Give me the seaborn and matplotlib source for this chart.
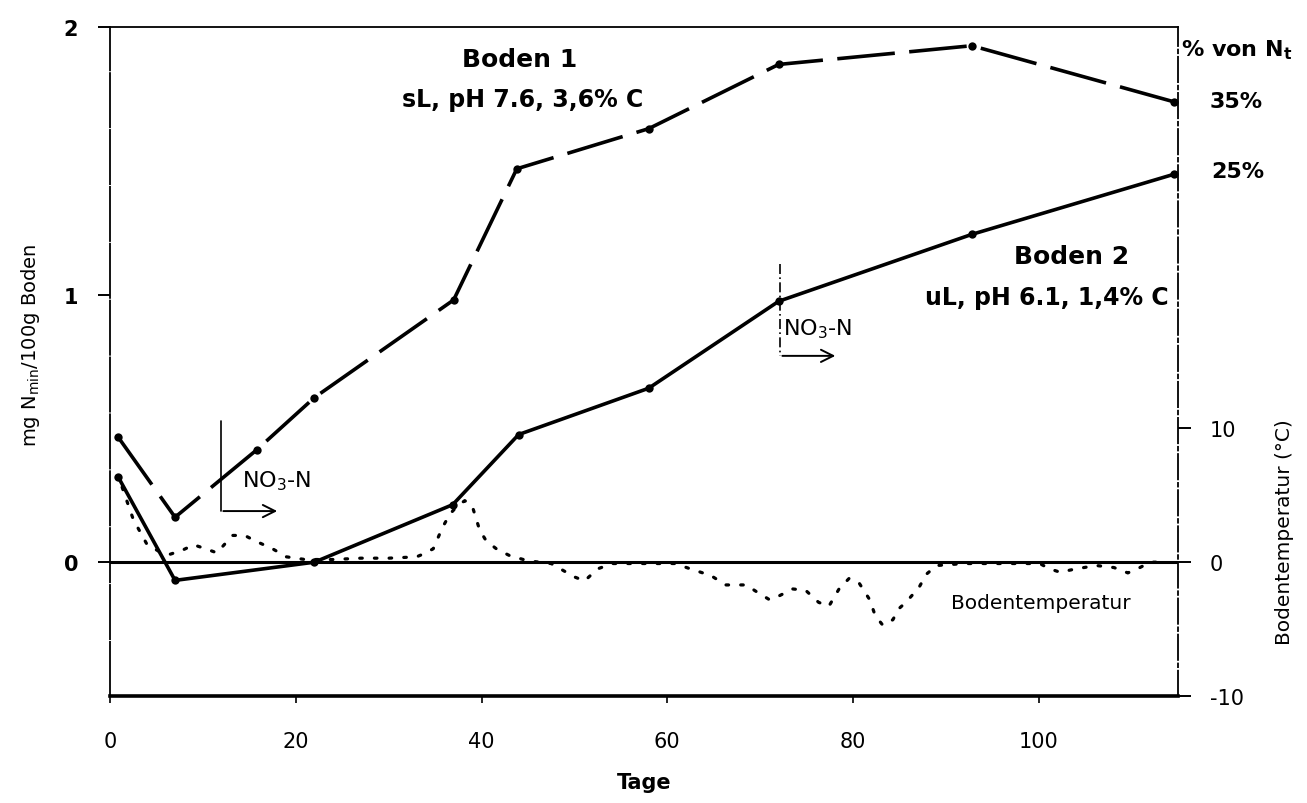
import matplotlib
matplotlib.use('Agg')
import matplotlib.pyplot as plt
import seaborn as sns
import pandas as pd

# Boden 1 (dashed) and Boden 2 (solid), mg Nmin / 100 g Boden
days_b1 = [0.9, 7, 15.8, 22, 37, 43.8, 58, 72, 92.8, 114.6]
nmin_b1 = [0.466, 0.168, 0.42, 0.615, 0.98, 1.47, 1.62, 1.86, 1.93, 1.72]
days_b2 = [0.9, 7, 22, 36.9, 44, 58, 72, 92.8, 114.6]
nmin_b2 = [0.317, -0.068, 0.0, 0.215, 0.477, 0.65, 0.975, 1.225, 1.45]

# soil temperature (°C), right axis
days_t = [1.3, 2.5, 4, 5.3, 6.5, 7.8, 9, 10.3, 11.5, 13.2, 14.5, 15.6, 17.5, 19,
          21, 24, 27, 30, 33, 33.7, 34.8, 35.8, 36.6, 37.4, 38.2, 39, 39.8, 40.5,
          41.6, 43, 45, 47.5, 50, 51.1, 52.5, 54.1, 57, 60.8, 62.5, 64.7, 66.3,
          68.5, 69.6, 71, 72.1, 73.5, 74.9, 76.3, 77.4, 78.5, 79.6, 80.7, 81.8,
          82.4, 83.2, 84.3, 84.9, 85.7, 87.1, 87.9, 89, 92, 96, 100.1, 101.2,
          102.3, 104, 106.2, 108.1, 109.6, 110.9, 112, 113.5]
temp = [5.6, 3.2, 1.3, 0.8, 0.6, 0.9, 1.3, 1.0, 0.7, 2.0, 2.0, 1.6, 1.0, 0.4,
        0.2, 0.2, 0.3, 0.3, 0.4, 0.6, 1.0, 2.6, 3.6, 4.2, 4.6, 4.2, 2.4, 1.6,
        1.0, 0.5, 0.1, -0.1, -1.1, -1.4, -0.5, -0.1, -0.1, -0.1, -0.5, -1.0, -1.7,
        -1.7, -2.2, -2.8, -2.5, -2.0, -2.1, -3.0, -3.3, -2.0, -1.2, -1.6, -2.8,
        -4.0, -4.7, -4.3, -3.5, -3.0, -1.9, -0.9, -0.25, -0.1, -0.1, -0.1, -0.5,
        -0.75, -0.5, -0.25, -0.4, -0.8, -0.4, 0.0, 0.0]

x_ticks = [0, 20, 40, 60, 80, 100]
y_ticks = [0, 1, 2]
t_ticks = [-10, 0, 10]

sns.set_theme(style='white')
plt.rcParams['font.family'] = ['DejaVu Sans']
plt.rcParams['text.color'] = 'black'
plt.rcParams['axes.labelcolor'] = 'black'
plt.rcParams['xtick.color'] = 'black'
plt.rcParams['ytick.color'] = 'black'
plt.rcParams['axes.unicode_minus'] = False

fig = plt.figure(figsize=(13.07, 8.04), dpi=100)
ax = fig.add_axes([0.0842, 0.1331, 0.8171, 0.8321])
ax2 = ax.twinx()

df_b1 = pd.DataFrame({'Tage': days_b1, 'N': nmin_b1})
df_b2 = pd.DataFrame({'Tage': days_b2, 'N': nmin_b2})
df_t = pd.DataFrame({'Tage': days_t, 'T': temp})

sns.lineplot(data=df_t, x='Tage', y='T', ax=ax2, color='black', lw=2.3,
             linestyle=(0, (0.8, 3.8)), dash_capstyle='round')
sns.lineplot(data=df_b1, x='Tage', y='N', ax=ax, color='black', lw=2.6,
             linestyle=(0, (16, 4)), marker='o', markersize=6, markeredgewidth=0)
sns.lineplot(data=df_b2, x='Tage', y='N', ax=ax, color='black', lw=2.6,
             marker='o', markersize=6, markeredgewidth=0)
ax.axhline(0, color='black', lw=2.2, zorder=1)

ax.set_xlim(0, 115)
ax.set_ylim(-0.5, 2)
ax2.set_ylim(-10, 40)
ax.set_xticks(x_ticks)
ax.set_yticks(y_ticks)
ax2.set_yticks(t_ticks)
ax.set_yticklabels([str(v) for v in y_ticks], fontweight='bold')
ax.tick_params(axis='y', length=9, width=1.4, direction='out', labelsize=15, pad=14, left=True)
ax.tick_params(axis='x', length=5, width=1.2, direction='out', labelsize=15, pad=20, bottom=True)
ax2.tick_params(axis='y', length=9, width=1.4, direction='out', labelsize=15, pad=14, right=True)

ax.set_xlabel('Tage', fontsize=15, fontweight='bold')
ax.xaxis.set_label_coords(0.5, -0.113)
ax.set_ylabel(r'mg N$_{\mathrm{min}}$/100g Boden', fontsize=14)
ax.yaxis.set_label_coords(-0.064, 0.525)
ax2.set_ylabel('')
fig.text(1285 / 1307, 1 - 532 / 804, 'Bodentemperatur (°C)', rotation=90,
         fontsize=14.5, ha='center', va='center')

for s in ['left', 'top', 'bottom']:
    ax2.spines[s].set_visible(False)
ax.spines['right'].set_visible(False)
ax.spines['left'].set_linewidth(1.3)
ax.spines['left'].set_linestyle((0, (30, 1.5)))
ax.spines['top'].set_linewidth(1.3)
ax.spines['bottom'].set_linewidth(2.6)
ax2.spines['right'].set_linewidth(1.3)
ax2.spines['right'].set_linestyle((0, (14, 2, 2, 2)))
for s in ax.spines.values():
    s.set_color('black')
ax2.spines['right'].set_color('black')

# labels in the plot
ax.text(44.1, 1.88, 'Boden 1', fontsize=18, fontweight='bold', ha='center', va='center')
ax.text(44.4, 1.73, 'sL, pH 7.6, 3,6% C', fontsize=17, fontweight='bold', ha='center', va='center')
ax.text(103.5, 1.143, 'Boden 2', fontsize=18, fontweight='bold', ha='center', va='center')
ax.text(114.0, 0.99, 'uL, pH 6.1, 1,4% C', fontsize=17, fontweight='bold', ha='right', va='center')
ax.text(115.3, 1.918, r'% von N$_{\mathbf{t}}$', fontsize=16, fontweight='bold',
        ha='left', va='center', clip_on=False)
ax.text(118.4, 1.723, '35%', fontsize=16, fontweight='bold', ha='left', va='center', clip_on=False)
ax.text(118.6, 1.462, '25%', fontsize=16, fontweight='bold', ha='left', va='center', clip_on=False)
ax.text(100.2, -0.152, 'Bodentemperatur', fontsize=14.5, ha='center', va='center')

# NO3-N markers
ax.plot([11.9, 11.9], [0.528, 0.191], color='black', lw=1.2)
ax.annotate('', xy=(18.3, 0.191), xytext=(11.9, 0.191),
            arrowprops=dict(arrowstyle='->', color='black', lw=1.4, mutation_scale=22))
ax.text(14.2, 0.285, r'NO$_3$-N', fontsize=16, ha='left', va='baseline')

ax.plot([72.1, 72.1], [1.114, 0.771], color='black', lw=1.2, linestyle=(0, (6, 2, 1, 2)))
ax.annotate('', xy=(78.4, 0.771), xytext=(72.1, 0.771),
            arrowprops=dict(arrowstyle='->', color='black', lw=1.4, mutation_scale=22))
ax.text(72.5, 0.853, r'NO$_3$-N', fontsize=16, ha='left', va='baseline')

fig.savefig('out.png', dpi=100)
